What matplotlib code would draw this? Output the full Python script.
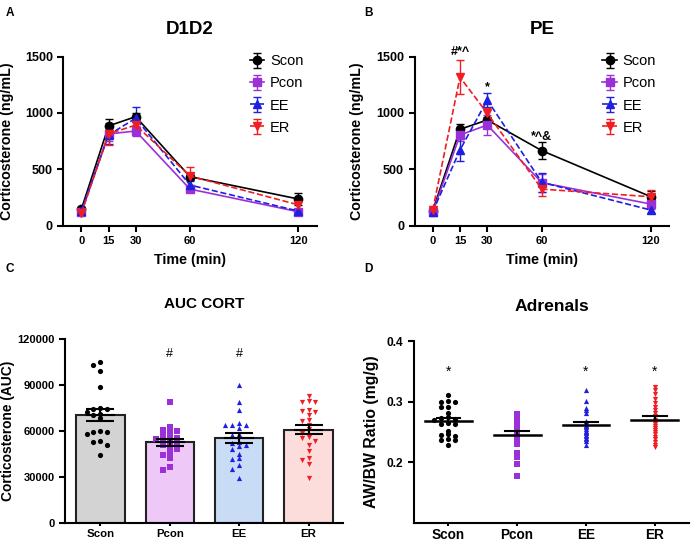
import numpy as np
import matplotlib
matplotlib.use("Agg")
import matplotlib.pyplot as plt

plt.rcParams['font.family'] = ['Liberation Sans', 'DejaVu Sans']

groups = ["Scon", "Pcon", "EE", "ER"]
colors = ["#000000", "#9B30D9", "#1F1FE0", "#F01E23"]
bar_fill = ["#D3D3D3", "#EEC9F7", "#C8DCF5", "#FDDCDC"]
markers_line = ["o", "s", "^", "v"]
linestyles = ["-", "-", "--", "--"]

time_pts = [0, 15, 30, 60, 120]

# Panel A (D1D2)
a_mean = {
    "Scon": [148, 885, 967, 435, 237],
    "Pcon": [118, 814, 840, 325, 124],
    "EE":   [133, 805, 953, 361, 130],
    "ER":   [110, 814, 893, 441, 185],
}
a_sem = {
    "Scon": [20, 60, 35, 30, 55],
    "Pcon": [15, 60, 45, 30, 20],
    "EE":   [15, 80, 100, 35, 20],
    "ER":   [15, 100, 50, 80, 40],
}
# Panel B (PE)
b_mean = {
    "Scon": [133, 855, 938, 666, 257],
    "Pcon": [118, 805, 893, 382, 192],
    "EE":   [124, 672, 1115, 385, 139],
    "ER":   [139, 1317, 997, 325, 257],
}
b_sem = {
    "Scon": [20, 45, 30, 75, 55],
    "Pcon": [15, 50, 85, 80, 45],
    "EE":   [15, 100, 60, 85, 30],
    "ER":   [20, 150, 50, 60, 60],
}
b_annot_text = ["#*^", "*", "*^&"]
b_annot_x = [15, 30, 60]
b_annot_y = [1540, 1230, 790]

# Panel C (AUC CORT)
auc = {
    "Scon": [105000, 102500, 99000, 88500, 75000, 74500, 74000, 72500, 71000, 70000,
             68000, 60000, 59500, 59000, 58000, 53500, 53000, 51000, 44500],
    "Pcon": [79000, 62500, 60500, 60000, 59500, 57000, 56000, 55500, 54500, 54000,
             53000, 52000, 50500, 49000, 48000, 45000, 44000, 42000, 36500, 34500],
    "EE":   [90000, 79000, 73500, 65000, 64000, 63500, 64000, 62000, 58000, 57000,
             53000, 52000, 51000, 50000, 48000, 45000, 42000, 41500, 37500, 35000, 29000],
    "ER":   [82500, 79500, 79000, 79000, 73500, 73000, 72000, 70000, 67000, 66500,
             64000, 61000, 58500, 56000, 55500, 53500, 50500, 47000, 42000, 41000, 38500, 29000],
}
c_annot = ["", "#", "#", ""]

# Panel D (Adrenals)
adr = {
    "Scon": [0.311, 0.302, 0.300, 0.299, 0.292, 0.291, 0.282, 0.274, 0.273, 0.272, 0.270,
             0.265, 0.264, 0.263, 0.252, 0.246, 0.245, 0.243, 0.238, 0.237, 0.236, 0.228],
    "Pcon": [0.279, 0.276, 0.274, 0.271, 0.268, 0.265, 0.263, 0.260, 0.257, 0.255,
             0.250, 0.246, 0.242, 0.238, 0.233, 0.230, 0.215, 0.208, 0.197, 0.178],
    "EE":   [0.320, 0.302, 0.290, 0.286, 0.282, 0.268, 0.265, 0.262, 0.260, 0.258,
             0.255, 0.252, 0.250, 0.248, 0.245, 0.243, 0.240, 0.238, 0.235, 0.228],
    "ER":   [0.325, 0.320, 0.313, 0.305, 0.298, 0.292, 0.287, 0.282, 0.276, 0.270, 0.266,
             0.263, 0.260, 0.257, 0.254, 0.250, 0.246, 0.242, 0.238, 0.233, 0.229, 0.225],
}
d_annot = ["*", "", "*", "*"]


def swarm_offsets(vals, thresh, step=0.1):
    vals = np.asarray(vals, float)
    order = np.argsort(-vals)
    slots = [0.0]
    for k in range(1, 6):
        slots += [-k * step, k * step]
    placed = []
    offs = np.zeros(len(vals))
    for i in order:
        for s in slots:
            ok = all(not (abs(po - s) < 1e-9 and abs(pv - vals[i]) < thresh) for po, pv in placed)
            if ok:
                offs[i] = s
                placed.append((s, vals[i]))
                break
    return offs


def sem(v):
    v = np.asarray(v, float)
    return v.std(ddof=1) / np.sqrt(len(v))


W, H = 692, 544
fig = plt.figure(figsize=(W / 100, H / 100), dpi=100)


def style_axes(ax, xfs, yfs):
    for s in ["top", "right"]:
        ax.spines[s].set_visible(False)
    for s in ["left", "bottom"]:
        ax.spines[s].set_linewidth(1.5)
    ax.tick_params(width=1.5, length=4, direction="out")
    ax.tick_params(axis="x", labelsize=xfs)
    ax.tick_params(axis="y", labelsize=yfs)
    for lab in ax.get_xticklabels() + ax.get_yticklabels():
        lab.set_fontweight("bold")


def line_panel(rect, means, sems, title):
    ax = fig.add_axes(rect)
    for g, c, m, ls in zip(groups, colors, markers_line, linestyles):
        ax.errorbar(time_pts, means[g], yerr=sems[g], color=c, marker=m, ls=ls,
                    lw=1.2, ms=6, capsize=3, elinewidth=1.0,
                    capthick=1.0, label=g)
    ax.set_xlim(-10, 130)
    ax.set_ylim(0, 1500)
    ax.set_xticks(time_pts)
    ax.set_yticks([0, 500, 1000, 1500])
    ax.set_xlabel("Time (min)", fontsize=10.3, fontweight="bold", labelpad=5)
    ax.set_ylabel("Corticosterone (ng/mL)", fontsize=10.3, fontweight="bold")
    ax.set_title(title, fontsize=13.5, fontweight="bold", pad=16)
    style_axes(ax, 8, 9)
    ax.legend(loc="upper right", frameon=False, fontsize=10.5, handlelength=1.0,
              handletextpad=0.4, labelspacing=0.55, bbox_to_anchor=(1.0, 1.09))
    return ax


axA = line_panel([0.0915, 0.585, 0.366, 0.311], a_mean, a_sem, "D1D2")
axA.yaxis.set_label_coords(-0.195, 0.5)
axB = line_panel([0.599, 0.585, 0.368, 0.311], b_mean, b_sem, "PE")
axB.yaxis.set_label_coords(-0.2, 0.5)
for t, x, y in zip(b_annot_text, b_annot_x, b_annot_y):
    axB.text(x, y, t, ha="center", va="center", fontsize=9, fontweight="bold")

# Panel C
axC = fig.add_axes([0.094, 0.0386, 0.402, 0.339])
xs = np.arange(len(groups))
for i, (g, c, m) in enumerate(zip(groups, colors, markers_line)):
    v = auc[g]
    mu = np.mean(v)
    axC.bar(i, mu, width=0.7, color=bar_fill[i], edgecolor="#222222", lw=1.5, zorder=1)
    offs = swarm_offsets(v, 2800)
    axC.scatter(i + offs, v, s=14, marker=m, color=c, zorder=3, lw=0)
    axC.errorbar(i, mu, yerr=sem(v), color="black", capsize=10, elinewidth=1.5,
                 capthick=1.5, zorder=4)
    axC.plot([i - 0.2, i + 0.2], [mu, mu], color="black", lw=1.5, zorder=4)
    if c_annot[i]:
        axC.text(i, 110000, c_annot[i], ha="center", va="center", fontsize=9)
axC.set_xlim(-0.51, 3.5)
axC.set_ylim(0, 120000)
axC.set_yticks([0, 30000, 60000, 90000, 120000])
axC.set_xticks(xs)
axC.set_xticklabels(groups)
axC.set_ylabel("Corticosterone (AUC)", fontsize=9.9, fontweight="bold")
axC.yaxis.set_label_coords(-0.18, 0.5)
axC.set_title("AUC CORT", fontsize=11, fontweight="bold", pad=22)
style_axes(axC, 8.2, 8)
axC.tick_params(axis="x", length=2.5, pad=1.5)

# Panel D
axD = fig.add_axes([0.598, 0.0392, 0.398, 0.3334])
for i, (g, c, m) in enumerate(zip(groups, colors, markers_line)):
    v = adr[g]
    mu = np.mean(v)
    offs = swarm_offsets(v, 0.006) if g == "Scon" else np.zeros(len(v))
    axD.scatter(i + offs, v, s=14, marker=m, color=c, zorder=2, lw=0)
    axD.plot([i - 0.34, i + 0.34], [mu, mu], color="black", lw=1.8, zorder=3)
    se = sem(v)
    axD.plot([i - 0.17, i + 0.17], [mu + se, mu + se], color="black", lw=1.5, zorder=3)
    axD.plot([i, i], [mu, mu + se], color="black", lw=1.5, zorder=3)
    if d_annot[i]:
        axD.text(i, 0.35, d_annot[i], ha="center", va="center", fontsize=10)
axD.set_xlim(-0.5, 3.5)
axD.set_ylim(0.1, 0.4)
axD.set_yticks([0.2, 0.3, 0.4])
axD.set_xticks(xs)
axD.set_xticklabels(groups)
axD.set_ylabel("AW/BW Ratio (mg/g)", fontsize=11.3, fontweight="bold")
axD.yaxis.set_label_coords(-0.127, 0.5)
axD.set_title("Adrenals", fontsize=12.6, fontweight="bold", pad=22)
style_axes(axD, 9.8, 8.6)
axD.tick_params(axis="x", length=2.5, pad=1)

for lab, x, y in [("A", 0.008, 0.988), ("B", 0.526, 0.988), ("C", 0.008, 0.517), ("D", 0.526, 0.517)]:
    fig.text(x, y, lab, fontsize=8.5, fontweight="bold", ha="left", va="top")

fig.savefig("out.png", dpi=100)
